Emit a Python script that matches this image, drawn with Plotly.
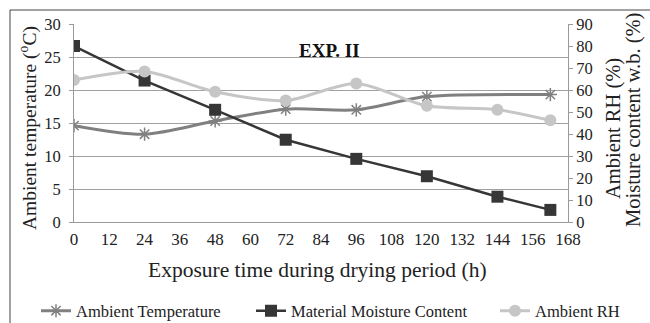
import plotly.graph_objects as go

hours = [0, 24, 48, 72, 96, 120, 144, 162]
temp_hours = [0, 24, 48, 72, 96, 120, 162]
ambient_temp = [14.6, 13.3, 15.3, 17.1, 17.0, 19.0, 19.3]
moisture = [80.0, 64.3, 51.0, 37.4, 28.7, 20.8, 11.5, 5.5]
ambient_rh = [64.5, 68.4, 59.2, 55.2, 63.0, 52.8, 51.0, 46.2]
x_ticks = list(range(0, 169, 12))

FONT = "Times New Roman, Liberation Serif, DejaVu Serif, serif"
TXT = "#222"
L, R, T, B = 74, 82, 24, 101
W, H = 650, 323
pw, ph = W - L - R, H - T - B

fig = go.Figure()
fig.add_trace(go.Scatter(
    x=temp_hours, y=ambient_temp, name="Ambient Temperature", mode="lines+markers",
    line=dict(color="#808080", width=3, shape="spline", smoothing=0.8),
    marker=dict(symbol="asterisk-open", size=11, line=dict(color="#7a7a7a", width=1.5)),
    legend="legend", showlegend=True))
fig.add_trace(go.Scatter(
    x=hours, y=moisture, name="Material Moisture Content", mode="lines+markers", yaxis="y2",
    line=dict(color="#363636", width=2.5),
    marker=dict(symbol="square", size=12, color="#363636"),
    legend="legend2", showlegend=True))
fig.add_trace(go.Scatter(
    x=hours, y=ambient_rh, name="Ambient RH", mode="lines+markers", yaxis="y2",
    line=dict(color="#c6c6c6", width=3, shape="spline", smoothing=0.8),
    marker=dict(symbol="circle", size=12, color="#c6c6c6"),
    legend="legend3", showlegend=True))

def px2x(p):
    return (p - L) / pw

def py2y(p):
    return (H - B - p) / ph

legend_common = dict(orientation="h", xref="container", yref="container", yanchor="middle",
                     font=dict(family=FONT, size=16.5, color=TXT), bgcolor="rgba(0,0,0,0)",
                     itemwidth=30, tracegroupgap=0)

def ann(text, xp, yp, size, angle=0):
    return dict(text=text, x=px2x(xp), y=py2y(yp), xref="paper", yref="paper",
                xanchor="center", yanchor="middle", showarrow=False, textangle=angle,
                font=dict(family=FONT, size=size, color=TXT))

fig.update_layout(
    width=W, height=H,
    showlegend=True,
    margin=dict(l=L, r=R, t=T, b=B),
    paper_bgcolor="white", plot_bgcolor="white",
    font=dict(family=FONT, color=TXT),
    xaxis=dict(range=[0, 168], tickvals=x_ticks, showgrid=False, showline=True,
               linecolor="#9a9a9a", linewidth=1, ticks="", zeroline=False,
               tickfont=dict(family=FONT, size=17, color=TXT), ticklabelstandoff=2),
    yaxis=dict(range=[0, 30], dtick=5, showgrid=True, gridcolor="#a0a0a0", gridwidth=1,
               showline=True, linecolor="#9a9a9a", ticks="outside", ticklen=4, tickcolor="#9a9a9a",
               zeroline=False, tickfont=dict(family=FONT, size=16.5, color=TXT),
               ticklabelstandoff=5),
    yaxis2=dict(range=[0, 90], dtick=10, overlaying="y", side="right", showgrid=False,
                showline=True, linecolor="#9a9a9a", ticks="outside", ticklen=4, tickcolor="#9a9a9a",
                zeroline=False, tickfont=dict(family=FONT, size=16.5, color=TXT)),
    legend=dict(x=36 / W, xanchor="left", y=12 / H, **legend_common),
    legend2=dict(x=251 / W, xanchor="left", y=12 / H, **legend_common),
    legend3=dict(x=495 / W, xanchor="left", y=12 / H, **legend_common),
    annotations=[
        dict(text="<b>EXP. II</b>", x=px2x(329), y=py2y(38), xref="paper", yref="paper",
             showarrow=False, font=dict(family=FONT, size=19, color="#111")),
        ann("Exposure time during drying period (h)", 317, 270, 21.5),
        ann("Ambient temperature (<sup>o</sup>C)", 28, 128, 19.5, -90),
        ann("Ambient RH (%)", 613, 129, 20.5, -90),
        ann("Moisture content w.b. (%)", 633, 120, 20.5, -90),
    ],
    shapes=[dict(type="rect", xref="paper", yref="paper", x0=px2x(10), x1=px2x(700),
                 y0=py2y(400), y1=py2y(10), line=dict(color="#444", width=1), layer="below")],
)

fig.write_html("out.html")
